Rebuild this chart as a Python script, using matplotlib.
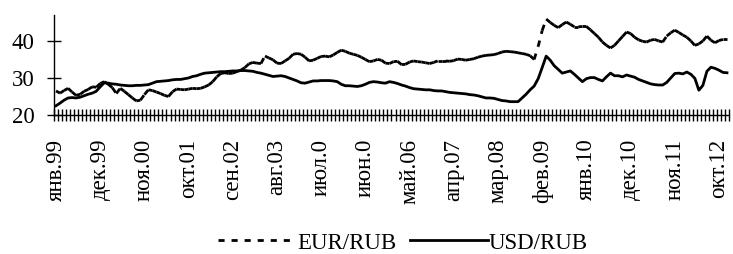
import numpy as np
import matplotlib
matplotlib.use("Agg")
import matplotlib.pyplot as plt
from matplotlib.collections import LineCollection
from matplotlib.lines import Line2D

plt.rcParams['font.family'] = ['Liberation Serif', 'DejaVu Serif']

# ---- данные: помесячно, янв.1999 - дек.2012 ----
usd = [
    22.5, 23.2, 24.0, 24.6, 24.7, 24.6, 24.8, 25.2, 25.6, 25.9, 26.4, 27.6,   # 1999
    28.7, 28.6, 28.4, 28.3, 28.1, 28.0, 27.9, 27.9, 28.0, 28.0, 28.1, 28.2,   # 2000
    28.6, 29.0, 29.1, 29.2, 29.3, 29.5, 29.6, 29.6, 29.8, 30.0, 30.4, 30.6,   # 2001
    31.0, 31.3, 31.4, 31.5, 31.6, 31.7, 31.7, 31.8, 31.9, 31.9, 32.0, 32.0,   # 2002
    31.9, 31.8, 31.5, 31.3, 31.0, 30.7, 30.4, 30.5, 30.6, 30.4, 30.0, 29.6,   # 2003
    29.2, 28.7, 28.6, 28.9, 29.2, 29.2, 29.3, 29.3, 29.3, 29.2, 29.0, 28.3,   # 2004
    27.9, 27.9, 27.8, 27.7, 27.9, 28.3, 28.8, 29.0, 28.9, 28.7, 28.6, 29.0,   # 2005
    28.8, 28.5, 28.1, 27.8, 27.4, 27.1, 27.0, 26.9, 26.8, 26.8, 26.6, 26.5,   # 2006
    26.5, 26.3, 26.1, 26.0, 25.9, 25.8, 25.7, 25.5, 25.4, 25.2, 24.9, 24.6,   # 2007
    24.6, 24.5, 24.2, 23.9, 23.8, 23.6, 23.6, 23.6, 24.6, 25.6, 26.8, 27.8,   # 2008
    29.8, 32.8, 35.9, 34.8, 33.3, 32.3, 31.3, 31.6, 31.9, 31.0, 30.0, 29.0,   # 2009
    29.8, 30.1, 30.1, 29.6, 29.2, 30.3, 31.3, 30.6, 30.6, 30.3, 30.8, 30.5,   # 2010
    30.2, 29.6, 29.2, 28.8, 28.4, 28.2, 28.1, 28.1, 28.8, 30.0, 31.2, 31.3,   # 2011
    31.1, 31.6, 31.0, 29.9, 26.7, 28.0, 31.8, 32.9, 32.6, 32.1, 31.5, 31.4,   # 2012
]

eur = [
    26.5, 25.9, 26.6, 27.2, 26.2, 25.3, 25.6, 26.4, 26.9, 27.6, 27.5, 28.5,   # 1999
    29.0, 28.3, 27.4, 25.8, 27.2, 26.4, 25.5, 24.6, 23.8, 24.0, 25.5, 26.8,   # 2000
    26.6, 26.2, 25.8, 25.3, 25.0, 26.3, 27.0, 26.9, 26.8, 27.0, 27.2, 27.1,   # 2001
    27.2, 27.6, 28.1, 29.0, 30.3, 31.2, 31.4, 31.2, 31.3, 31.7, 32.1, 32.8,   # 2002
    33.8, 34.2, 34.0, 33.9, 35.9, 35.4, 34.9, 34.0, 33.9, 34.6, 35.3, 36.4,   # 2003
    36.6, 36.4, 35.6, 34.6, 34.8, 35.3, 35.8, 35.9, 35.7, 36.2, 36.9, 37.5,   # 2004
    37.2, 36.7, 36.4, 36.1, 35.6, 35.0, 34.4, 34.6, 35.0, 34.8, 34.0, 33.9,   # 2005
    34.4, 34.5, 33.6, 33.7, 34.3, 34.6, 34.4, 34.3, 34.1, 33.9, 34.2, 34.6,   # 2006
    34.6, 34.6, 34.5, 34.7, 35.1, 35.0, 34.8, 35.0, 35.2, 35.6, 35.9, 36.1,   # 2007
    36.2, 36.3, 36.6, 37.0, 37.2, 37.1, 37.0, 36.8, 36.6, 36.4, 36.0, 35.0,   # 2008
    38.5, 42.8, 45.9, 45.0, 44.2, 43.6, 44.4, 45.1, 44.5, 43.8, 43.8, 43.9,   # 2009
    43.9, 43.0, 42.0, 41.0, 39.7, 38.8, 38.1, 38.8, 40.0, 41.2, 42.4, 42.0,   # 2010
    41.0, 40.3, 39.9, 39.7, 40.2, 40.4, 40.0, 39.7, 41.3, 42.2, 42.9, 42.3,   # 2011
    41.6, 41.0, 40.0, 38.8, 39.2, 40.0, 41.3, 40.2, 39.5, 40.1, 40.4, 40.4,   # 2012
]

label_pos = [0, 11, 22, 33, 44, 55, 66, 77, 88, 99, 110, 121, 132, 143, 154, 165]
label_txt = ['янв.99', 'дек.99', 'ноя.00', 'окт.01', 'сен.02', 'авг.03',
             'июл.0', 'июн.0', 'май.06', 'апр.07', 'мар.08', 'фев.09',
             'янв.10', 'дек.10', 'ноя.11', 'окт.12']

FS = 16.5
eur_dash = (0, (2.2, 2.5))

fig = plt.figure(figsize=(7.33, 2.54), dpi=100)
ax = fig.add_axes([54 / 733, 1 - 115 / 254, 675 / 733, 100 / 254])

x = np.arange(len(usd))
ax.plot(x, usd, color='black', lw=2.0, solid_joinstyle='round')

# EUR: штрих начинается заново на каждом отрезке, как в Excel
pts = np.column_stack([x, eur])
segs = np.stack([pts[:-1], pts[1:]], axis=1)
lc = LineCollection(segs, colors='black', linewidths=2.0, linestyles=[eur_dash])
ax.add_collection(lc)

ax.set_xlim(-0.5, len(usd) - 0.5)
ax.set_ylim(20, 47)

ax.spines['top'].set_visible(False)
ax.spines['right'].set_visible(False)
ax.spines['left'].set_linewidth(1.0)
ax.spines['bottom'].set_linewidth(1.0)

ax.set_yticks([20, 30, 40])
ax.tick_params(axis='y', direction='inout', length=10, width=1, pad=9, labelsize=FS)

# риски между категориями (major), подписи по центрам категорий (minor)
ax.set_xticks(np.arange(-0.5, len(usd)))
ax.tick_params(axis='x', which='major', direction='inout', length=8, width=1,
               labelbottom=False)
ax.set_xticks(label_pos, minor=True)
ax.set_xticklabels(label_txt, minor=True, rotation=90, fontsize=FS)
ax.tick_params(axis='x', which='minor', direction='in', length=0, pad=17)

handles = [Line2D([], [], color='black', lw=2.0, linestyle=eur_dash),
           Line2D([], [], color='black', lw=2.0)]
fig.legend(handles, ['EUR/RUB', 'USD/RUB'], loc='center', ncol=2,
           bbox_to_anchor=(403 / 733, 1 - 243 / 254), frameon=False,
           fontsize=FS, handlelength=3.4, handletextpad=0.05,
           columnspacing=0.6)

fig.savefig('out.png', dpi=100)
